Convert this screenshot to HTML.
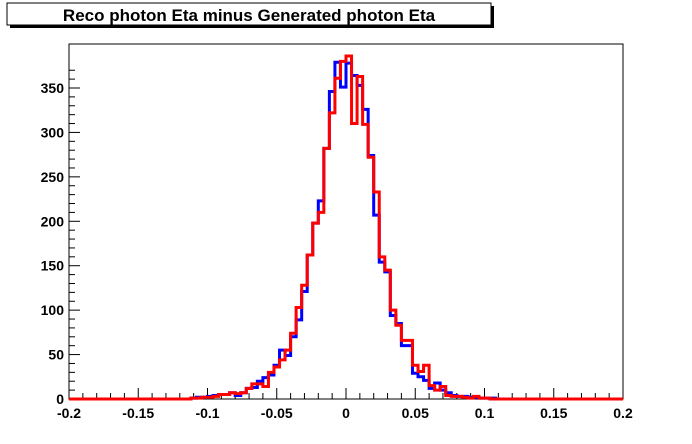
<!DOCTYPE html>
<html><head><meta charset="utf-8"><style>
body{margin:0;background:#fff;}
svg{display:block;font-family:"Liberation Sans",Arial,sans-serif;}
</style></head><body>
<svg id="chart" width="692" height="444">
<rect x="0" y="0" width="692" height="444" fill="#fff"/>
<g>
<rect x="10" y="6" width="484" height="22" fill="#000"/>
<rect x="7" y="3" width="484" height="22" fill="#fff" stroke="#000" stroke-width="1"/>
<text x="249" y="21" text-anchor="middle" font-size="17" font-weight="bold">Reco photon Eta minus Generated photon Eta</text>
</g>
<rect x="69" y="44" width="554" height="355" fill="none" stroke="#000" stroke-width="1"/>
<g id="axes"></g>
<g id="series"></g>
</svg>
<script>
const binWidth = 0.004;
const binOffsets = [-28,-27,-26,-25,-24,-23,-22,-21,-20,-19,-18,-17,-16,-15,-14,-13,-12,-11,-10,-9,-8,-7,-6,-5,-4,-3,-2,-1,0,1,2,3,4,5,6,7,8,9,10,11,12,13,14,15,16,17,18,19,20,21,22,23,24,25,26];
const blueCounts = [1,2,2,3,4,5,5,7,4,7,12,13,20,24,27,38,55,49,70,89,121,162,198,223,282,346,379,351,378,364,353,326,274,207,154,143,94,85,60,60,29,25,21,12,18,10,7,4,3,3,2,2,1,1,1];
const redCounts  = [1,1,2,2,3,5,5,7,6,7,12,17,17,14,30,36,44,55,74,103,128,162,198,210,282,322,361,380,386,310,363,309,272,233,160,145,100,83,66,66,38,31,38,15,10,14,4,3,3,2,1,3,1,1,0];
const yTicks = [0,50,100,150,200,250,300,350];
const xTicks = [-0.2,-0.15,-0.1,-0.05,0,0.05,0.1,0.15,0.2];

const X0=69,X1=623,Y0=399;
const xs = v => X0 + (v+0.2)/0.4*(X1-X0);
const ys = c => Y0 - c*(311/350);
const NS="http://www.w3.org/2000/svg";
const axes=document.getElementById('axes');
function mk(tag,attrs,parent){const e=document.createElementNS(NS,tag);for(const k in attrs)e.setAttribute(k,attrs[k]);parent.appendChild(e);return e;}

for(let c=0;c<=375;c+=10){
  const major = c%50===0;
  const t=mk('line',{x1:X0,x2:X0+(major?11:6),y1:ys(c),y2:ys(c),stroke:'#000'},axes);
  
  
}
yTicks.forEach(v=>{
  const t=mk('text',{x:X0-5,y:ys(v)+5,'text-anchor':'end','font-size':'14','font-weight':'bold'},axes);
  t.textContent=v;
  
  
});
for(let i=0;i<=40;i++){
  const v=-0.2+i*0.01;
  const major=i%5===0;
  const t=mk('line',{x1:xs(v),x2:xs(v),y1:Y0,y2:Y0-(major?11:6),stroke:'#000'},axes);
  
  
}
xTicks.forEach(v=>{
  const t=mk('text',{x:xs(v),y:Y0+19,'text-anchor':'middle','font-size':'14','font-weight':'bold'},axes);
  t.textContent=(Math.abs(v)<1e-9?'0':String(+v.toFixed(2)));
  
  
});

function stepPath(counts){
  let d='M'+xs(-0.2)+','+ys(0);
  const first=binOffsets[0]*binWidth;
  d+=' L'+xs(first)+','+ys(0);
  counts.forEach((c,i)=>{
    const a=binOffsets[i]*binWidth, b=a+binWidth;
    d+=' L'+xs(a)+','+ys(c)+' L'+xs(b)+','+ys(c);
  });
  const last=(binOffsets[binOffsets.length-1]+1)*binWidth;
  d+=' L'+xs(last)+','+ys(0)+' L'+xs(0.2)+','+ys(0);
  return d;
}
const series=document.getElementById('series');
const pb=mk('path',{d:stepPath(blueCounts),fill:'none',stroke:'#0000ff','stroke-width':'3'},series);


const pr=mk('path',{d:stepPath(redCounts),fill:'none',stroke:'#ff0000','stroke-width':'3'},series);


</script>
</body></html>
